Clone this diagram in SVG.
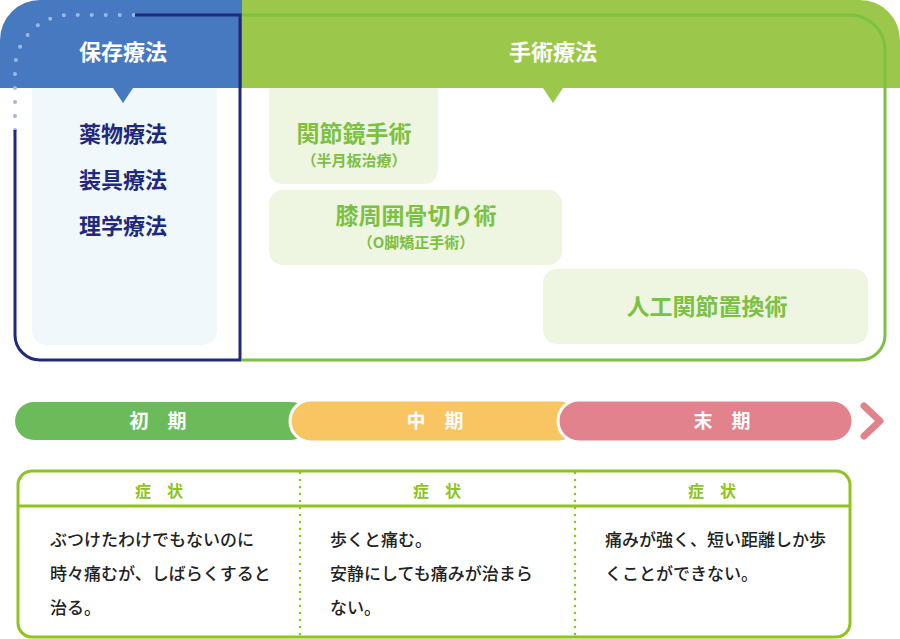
<svg xmlns="http://www.w3.org/2000/svg" width="900" height="639" viewBox="0 0 900 639">
<style>
text{font-family:"Noto Sans CJK JP","Noto Sans",sans-serif;font-weight:bold}
.h{fill:#fff;font-size:22px;text-anchor:middle}
.b{fill:#1f2a7c;font-size:22px;text-anchor:middle}
.g{fill:#7cc142;text-anchor:middle}
.t{fill:#fff;font-size:19px;text-anchor:middle}
.s{fill:#8fc31f;font-size:16px;text-anchor:middle}
.p{fill:#222;font-size:17px;font-weight:500}
</style>
<g id="conservative">
<path d="M0,88 V40 A40,40 0 0 1 40,0 H242 V88 Z" fill="#4779c0"/>
<path d="M32,88 H217 V330 A15,15 0 0 1 202,345 H47 A15,15 0 0 1 32,330 Z" fill="#f0f8fc"/>
<path d="M113,88 L123,103 L133,88 Z" fill="#4779c0"/>
<path d="M15,130 V70 A55,55 0 0 1 70,15 H135" fill="none" stroke="#9fb8e3" stroke-width="4" stroke-dasharray="0 14" stroke-linecap="round"/>
<path d="M135,15 H240 V360 H40 A25,25 0 0 1 15,335 V130" fill="none" stroke="#1f2a7c" stroke-width="3"/>
<text class="h" x="123" y="60">保存療法</text>
<text class="b" x="123" y="142">薬物療法</text>
<text class="b" x="123" y="188">装具療法</text>
<text class="b" x="123" y="234">理学療法</text>
</g>
<g id="surgical">
<path d="M242,0 H860 A40,40 0 0 1 900,40 V88 H242 Z" fill="#9bc84a"/>
<path d="M543,88 L553,103 L563,88 Z" fill="#9bc84a"/>
<path d="M242,15 H850 A35,35 0 0 1 885,50 V335 A25,25 0 0 1 860,360 H242" fill="none" stroke="#7cc142" stroke-width="3"/>
<text class="h" x="553" y="60">手術療法</text>
<path d="M269,88 H438 V170 A14,14 0 0 1 424,184 H283 A14,14 0 0 1 269,170 Z" fill="#eef5e1"/>
<text class="g" x="354" y="142" font-size="23">関節鏡手術</text>
<text class="g" x="354" y="166" font-size="15">（半月板治療）</text>
<rect x="269" y="190" width="293" height="75" rx="14" fill="#eef5e1"/>
<text class="g" x="416" y="224" font-size="23">膝周囲骨切り術</text>
<text class="g" x="416" y="248" font-size="15">（O脚矯正手術）</text>
<rect x="543" y="269" width="325" height="75" rx="14" fill="#eef5e1"/>
<text class="g" x="707" y="315" font-size="23">人工関節置換術</text>
</g>
<g id="timeline">
<rect x="15" y="402" width="295" height="38" rx="19" fill="#6cbb5a"/>
<rect x="290" y="400" width="290" height="42" rx="21" fill="#f8c562" stroke="#fff" stroke-width="3"/>
<rect x="558" y="400" width="295" height="42" rx="21" fill="#e1828c" stroke="#fff" stroke-width="3"/>
<path d="M864,406 L880,421 L864,436" fill="none" stroke="#e1828c" stroke-width="7" stroke-linecap="round" stroke-linejoin="round"/>
<text class="t" x="158" y="428">初　期</text>
<text class="t" x="435" y="428">中　期</text>
<text class="t" x="722" y="428">末　期</text>
</g>
<g id="symptoms">
<rect x="18" y="471" width="832" height="166" rx="14" fill="#fff" stroke="#8fc31f" stroke-width="3"/>
<line x1="18" y1="506" x2="850" y2="506" stroke="#8fc31f" stroke-width="3"/>
<line x1="300" y1="473" x2="300" y2="636" stroke="#8fc31f" stroke-width="2.5" stroke-dasharray="0 7" stroke-linecap="round"/>
<line x1="575" y1="473" x2="575" y2="636" stroke="#8fc31f" stroke-width="2.5" stroke-dasharray="0 7" stroke-linecap="round"/>
<text class="s" x="159" y="497">症　状</text>
<text class="s" x="437" y="497">症　状</text>
<text class="s" x="712" y="497">症　状</text>
<text class="p" x="50" y="546">ぶつけたわけでもないのに</text>
<text class="p" x="50" y="580">時々痛むが、しばらくすると</text>
<text class="p" x="50" y="614">治る。</text>
<text class="p" x="330" y="546">歩くと痛む。</text>
<text class="p" x="330" y="580">安静にしても痛みが治まら</text>
<text class="p" x="330" y="614">ない。</text>
<text class="p" x="605" y="546">痛みが強く、短い距離しか歩</text>
<text class="p" x="605" y="580">くことができない。</text>
</g>
</svg>
